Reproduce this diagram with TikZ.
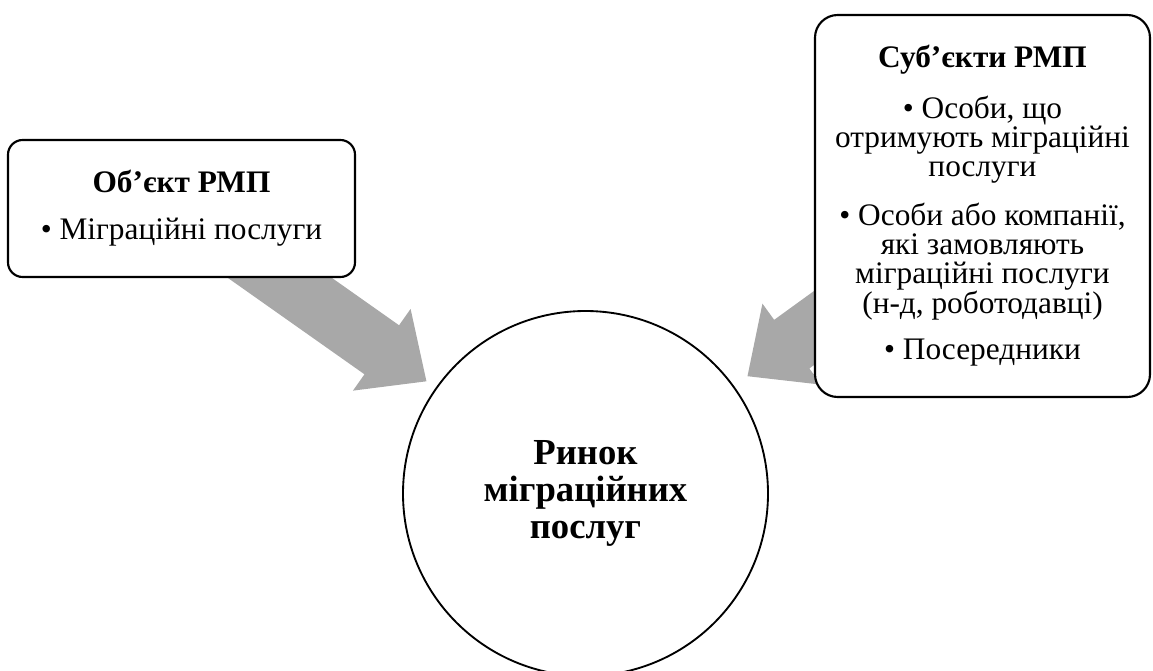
\documentclass[tikz,border=0pt]{standalone}
\usepackage{fontspec}
\setmainfont{Liberation Serif}
\usepackage{tikz}
\usetikzlibrary{calc,positioning,backgrounds}
\definecolor{arrgray}{RGB}{168,168,168}
\tikzset{
  box/.style={draw, fill=white, line width=1.6pt, align=center, inner sep=0pt, font=\fontsize{23.5}{21.5}\selectfont},
  rmpnode/.style={circle, draw, fill=white, line width=1.4pt, minimum size=273.75pt, align=center, inner sep=0pt, font=\fontsize{27.5}{28}\selectfont\bfseries}
}
\newcommand{\rmparrow}[3]{%
	\coordinate (#1tip) at ($(#2.center)!#3!(#1.center)$);
	\coordinate (#1mid) at ($(#1tip)!41pt!(#1.center)$);
	\fill[arrgray] ($(#1.center)!22.5pt!-90:(#2.center)$) -- ($(#1mid)!22.5pt!90:(#1.center)$)
		-- ($(#1mid)!37.5pt!90:(#1.center)$) -- (#1tip) -- ($(#1mid)!37.5pt!-90:(#1.center)$)
		-- ($(#1mid)!22.5pt!-90:(#1.center)$) -- ($(#1.center)!22.5pt!90:(#2.center)$) -- cycle;
}

\begin{document}
\begin{tikzpicture}[x=0.75pt,y=-0.75pt]
	\useasboundingbox (0,0) rectangle (1153,671);
	\node[box, rounded corners=11pt, minimum width=260.25pt, minimum height=102.75pt] (objbox) at (181.5,208.5)
		{\textbf{Об’єкт РМП}\\[13.75pt]• Міграційні послуги};
	\node[box, rounded corners=17pt, minimum width=251.25pt, minimum height=286.5pt] (subjbox) at (982.5,206)
		{\textbf{Суб’єкти РМП}\\[15.25pt]
		• Особи, що\\отримують міграційні\\послуги\\[14.5pt]
		• Особи або компанії,\\які замовляють\\міграційні послуги\\(н-д, роботодавці)\\[13pt]
		• Посередники};
	\node[rmpnode] (market) at (585.5,493.5) {Ринок\\міграційних\\послуг};
	\begin{pgfonlayer}{background}
		\rmparrow{objbox}{market}{146pt}
		\rmparrow{subjbox}{market}{150pt}
	\end{pgfonlayer}
\end{tikzpicture}
\end{document}
